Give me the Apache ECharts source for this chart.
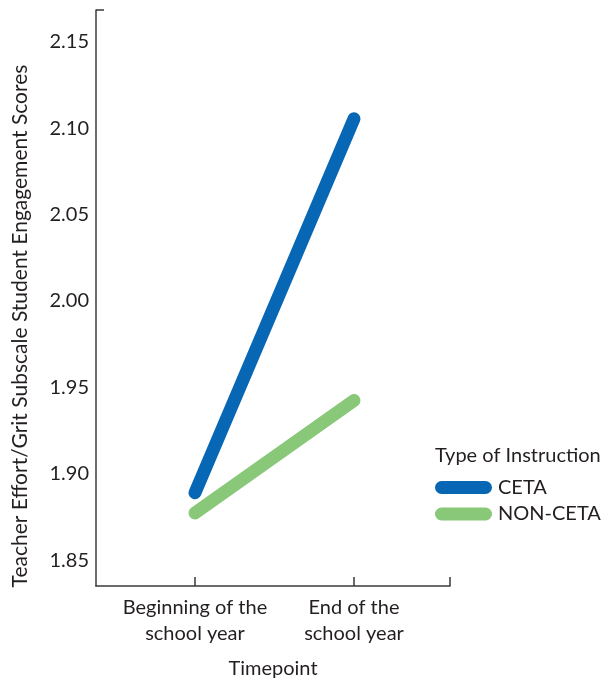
<!DOCTYPE html>
<html>
<head>
<meta charset="utf-8">
<script src="https://cdn.jsdelivr.net/npm/echarts@6/dist/echarts.min.js"></script>
<style>
html,body{margin:0;padding:0;background:#fff;}
#chart{width:612px;height:680px;}
</style>
</head>
<body>
<div id="chart"></div>
<script>
// Data
var timepoints = [1, 2];
var timepointLabels = ['Beginning of the\nschool year', 'End of the\nschool year'];
var cetaValues = [1.889, 2.1055];
var nonCetaValues = [1.8773, 1.9424];
var yTicks = [1.85, 1.90, 1.95, 2.00, 2.05, 2.10, 2.15];
var seriesNames = ['CETA', 'NON-CETA'];

var FONT = 'Lato';
var TXT = '#231f20';
var AX = '#3a3a3a';
var yMin = 1.835, yMax = 2.1685;
var xMin = 0.3774, xMax = 2.6038;

function pairs(xs, ys) { return xs.map(function (x, i) { return [x, ys[i]]; }); }

var pill = 'path://M6.5,0 H50.5 A6.5,6.5 0 0 1 50.5,13 H6.5 A6.5,6.5 0 0 1 6.5,0 Z';

var chart = echarts.init(document.getElementById('chart'), null, {renderer: 'canvas'});
chart.setOption({
  animation: false,
  backgroundColor: '#ffffff',
  textStyle: {fontFamily: FONT, color: TXT},
  title: {
    text: 'Type of Instruction',
    left: 435, top: 446,
    padding: 0,
    textStyle: {fontFamily: FONT, fontSize: 20, fontWeight: 'normal', color: TXT}
  },
  legend: {
    orient: 'vertical',
    left: 435, top: 477.5,
    padding: 0,
    itemWidth: 57, itemHeight: 13,
    itemGap: 6.5,
    itemStyle: {borderWidth: 0},
    textStyle: {fontFamily: FONT, fontSize: 20, color: TXT, padding: [0, 0, 0, 1]},
    data: [
      {name: seriesNames[0], icon: pill},
      {name: seriesNames[1], icon: pill}
    ]
  },
  grid: {left: 96, top: 10, width: 354, height: 576, containLabel: false, outerBoundsMode: 'none'},
  xAxis: {
    type: 'value',
    min: xMin, max: xMax,
    name: 'Timepoint',
    nameLocation: 'middle',
    nameGap: 73,
    nameTextStyle: {fontFamily: FONT, fontSize: 20, color: TXT},
    splitLine: {show: false},
    axisLine: {show: true, lineStyle: {color: AX, width: 1.5}},
    axisTick: {show: true, inside: true, length: 9, lineStyle: {color: AX, width: 1.5},
      customValues: timepoints.concat([xMax])},
    axisLabel: {
      show: true, margin: 9, color: TXT, fontFamily: FONT, fontSize: 20, lineHeight: 26,
      customValues: timepoints,
      formatter: function (v) {
        var i = timepoints.indexOf(v);
        return i >= 0 ? timepointLabels[i] : '';
      }
    }
  },
  yAxis: {
    type: 'value',
    min: yMin, max: yMax,
    name: 'Teacher Effort/Grit Subscale Student Engagement Scores',
    nameLocation: 'middle',
    nameGap: 65,
    nameTextStyle: {fontFamily: FONT, fontSize: 21, color: TXT, padding: [0, 56, 0, 0]},
    splitLine: {show: false},
    axisLine: {show: true, lineStyle: {color: AX, width: 1.5}},
    axisTick: {show: true, inside: true, length: 8, lineStyle: {color: AX, width: 1.5},
      customValues: [yMax]},
    axisLabel: {
      show: true, margin: 7, color: TXT, fontFamily: FONT, fontSize: 20,
      customValues: yTicks,
      formatter: function (v) { return v.toFixed(2); }
    }
  },
  series: [
    {
      name: seriesNames[0], type: 'line',
      data: pairs(timepoints, cetaValues),
      showSymbol: false, symbol: 'none',
      color: '#0767b4',
      lineStyle: {width: 13, color: '#0767b4', cap: 'round'},
      z: 3
    },
    {
      name: seriesNames[1], type: 'line',
      data: pairs(timepoints, nonCetaValues),
      showSymbol: false, symbol: 'none',
      color: '#88c878',
      lineStyle: {width: 13, color: '#88c878', cap: 'round'},
      z: 2
    }
  ]
});
</script>
</body>
</html>
